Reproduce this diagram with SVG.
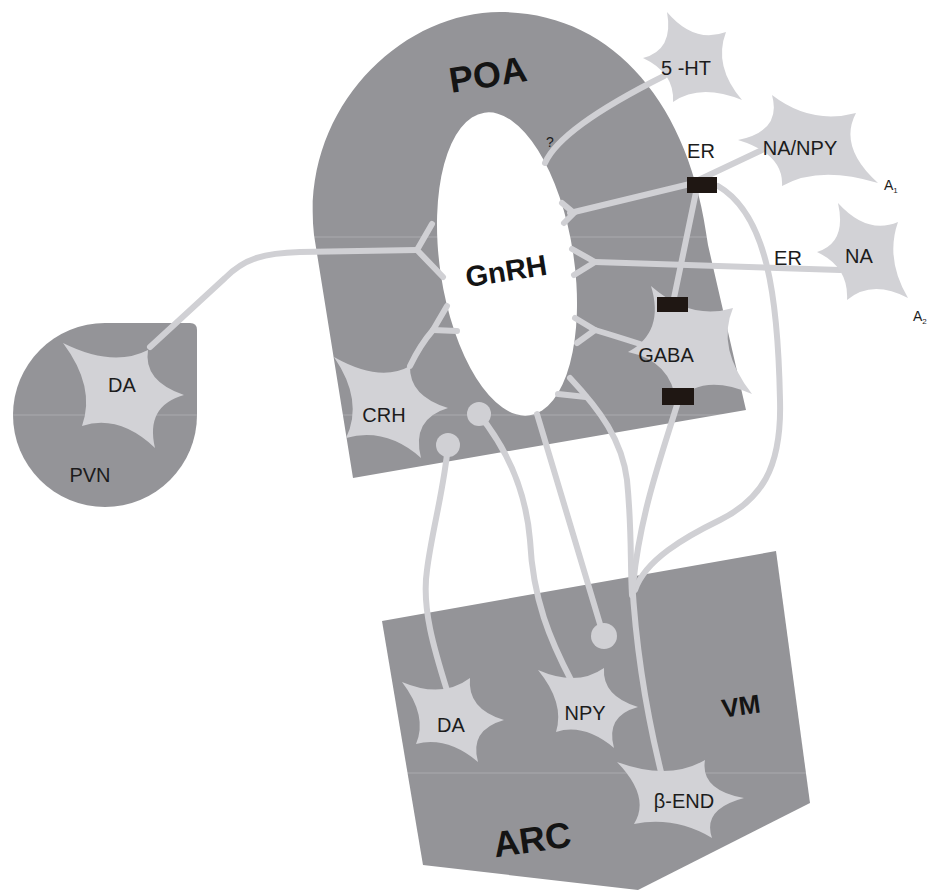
<svg xmlns="http://www.w3.org/2000/svg" width="929" height="892" viewBox="0 0 929 892">
  <style>
    .region { fill: #949498; }
    .band { stroke: #ffffff; stroke-opacity: 0.22; stroke-width: 1; }
    .cell { fill: #d2d2d6; }
    .axon { fill: none; stroke: #d0d0d4; stroke-width: 6; stroke-linecap: round; stroke-linejoin: round; }
    .bouton { fill: #d0d0d4; }
    .er { fill: #1f1713; }
    .lbl { font-family: "Liberation Sans", Arial, sans-serif; font-size: 20px; fill: #1c1c1c; text-anchor: middle; }
    .big { font-family: "Liberation Sans", Arial, sans-serif; font-weight: bold; fill: #141414; text-anchor: middle; }
    .sub { font-family: "Liberation Sans", Arial, sans-serif; font-size: 14px; fill: #1c1c1c; }
  </style>

  <rect width="929" height="892" fill="#ffffff"/>

  <!-- brain regions -->
  <g id="poa">
    <path class="region" d="M353,478 L314,235 C300,110 400,12 500,12 C610,12 690,100 708,245 L746,410 Z"/>
    <text class="big" font-size="36" x="488" y="87" transform="rotate(-9 488 75)">POA</text>
  </g>
  <g id="pvn">
    <path class="region" d="M197,330 L197,415 A92,92 0 1 1 105,323 L190,323 Q197,323 197,330 Z"/>
    <text class="lbl" x="90" y="482">PVN</text>
  </g>
  <g id="arc">
    <path class="region" d="M382,621 L776,551 L810,803 L638,890 L423,865 Z"/>
    <text class="big" font-size="36" x="532" y="852" transform="rotate(-8 532 838)">ARC</text>
    <text class="big" font-size="26" x="741" y="715" transform="rotate(-8 741 706)">VM</text>
  </g>

  <!-- faint horizontal bands -->
  <g id="bands">
    <line class="band" x1="314" y1="237" x2="710" y2="237"/>
    <line class="band" x1="12" y1="415" x2="197" y2="415"/>
    <line class="band" x1="330" y1="415" x2="745" y2="415"/>
    <line class="band" x1="395" y1="773" x2="808" y2="773"/>
  </g>

  <!-- GnRH cell field -->
  <g id="gnrh">
    <ellipse cx="507" cy="264" rx="67" ry="153" fill="#ffffff" transform="rotate(-8.5 507 264)"/>
    <text class="big" font-size="29" x="506" y="281" transform="rotate(-9 506 270)">GnRH</text>
  </g>

  <!-- axonal projections -->
  <g id="axons">
    <path class="axon" d="M545,163 C556,138 600,108 664,76"/>
    <path class="axon" d="M570,213 L690,184 L762,150"/>
    <path class="axon" d="M562,203 L574,213 L564,223"/>
    <path class="axon" d="M595,262 L840,270"/>
    <path class="axon" d="M572,249 L595,262 L574,275"/>
    <path class="axon" d="M595,330 Q615,336 640,344"/>
    <path class="axon" d="M575,318 L595,330 L577,343"/>
    <path class="axon" d="M410,366 Q420,345 433,330"/>
    <path class="axon" d="M447,306 L433,330 L457,331"/>
    <path class="axon" d="M417,250 L300,252 C265,253 245,258 225,278 L150,347"/>
    <path class="axon" d="M432,224 L417,250 L443,277"/>
    <path class="axon" d="M718,186 C768,215 778,300 780,400 C782,470 760,500 720,520 C685,537 645,560 635,590"/>
    <path class="axon" d="M696,192 L674,298"/>
    <path class="axon" d="M677,405 C660,460 640,515 633,585"/>
    <path class="axon" d="M570,378 C600,410 622,440 627,480 C632,530 630,560 632,595"/>
    <path class="axon" d="M558,394 L586,397"/>
    <path class="axon" stroke-width="8" d="M537,414 L603,634"/>
    <path class="axon" d="M448,445 C444,490 432,530 427,570 C421,610 436,655 449,697"/>
    <path class="axon" d="M478,413 C500,440 525,480 530,540 C533,600 550,640 572,682"/>
    <path class="axon" stroke-width="11" d="M632,580 C636,650 648,720 662,776"/>
  </g>

  <!-- terminals -->
  <g id="boutons">
    <circle class="bouton" cx="448" cy="445" r="12"/>
    <circle class="bouton" cx="479" cy="414" r="12"/>
    <circle class="bouton" cx="604" cy="636" r="13"/>
  </g>

  <!-- neurons -->
  <g id="n-5ht">
    <path class="cell" d="M667,12 Q694,44 726,32 Q713,66 742,100 Q700,83 673,102 Q675,73 643,58 Q674,50 667,12 Z"/>
    <text class="lbl" x="686" y="75">5 -HT</text>
  </g>
  <g id="n-nanpy">
    <path class="cell" d="M772,95 Q811,125 856,113 Q838,147 878,183 Q819,165 782,186 Q784,154 738,140 Q782,131 772,95 Z"/>
    <text class="lbl" x="800" y="155">NA/NPY</text>
    <text class="sub" x="884" y="190">A<tspan font-size="8" dy="3">1</tspan></text>
  </g>
  <g id="n-na">
    <path class="cell" d="M838,203 Q867,235 898,222 Q885,259 908,298 Q872,279 847,300 Q849,267 817,252 Q847,243 838,203 Z"/>
    <text class="lbl" x="859" y="263">NA</text>
    <text class="sub" x="913" y="321">A<tspan font-size="8" dy="3">2</tspan></text>
  </g>
  <g id="n-gaba">
    <path class="cell" d="M651,286 Q691,321 733,308 Q716,348 752,394 Q702,372 676,402 Q671,361 628,352 Q665,332 651,286 Z"/>
    <text class="lbl" x="666" y="362">GABA</text>
  </g>
  <g id="n-crh">
    <path class="cell" d="M334,357 Q380,383 410,366 Q409,396 448,408 Q411,419 421,458 Q386,427 346,438 Q364,401 334,357 Z"/>
    <text class="lbl" x="384" y="422">CRH</text>
  </g>
  <g id="n-da-pvn">
    <path class="cell" d="M63,343 Q113,368 148,350 Q143,381 184,395 Q145,406 155,448 Q119,414 82,426 Q96,387 63,343 Z"/>
    <text class="lbl" x="122" y="392">DA</text>
  </g>
  <g id="n-da-arc">
    <path class="cell" d="M402,682 Q442,699 470,678 Q467,709 504,720 Q469,730 478,762 Q447,736 416,744 Q428,716 402,682 Z"/>
    <text class="lbl" x="451" y="732">DA</text>
  </g>
  <g id="n-npy">
    <path class="cell" d="M538,670 Q577,687 604,668 Q602,696 638,707 Q605,716 614,748 Q584,723 556,732 Q565,703 538,670 Z"/>
    <text class="lbl" x="585" y="720">NPY</text>
  </g>
  <g id="n-bend">
    <path class="cell" d="M617,762 Q669,781 705,760 Q700,790 744,798 Q702,809 712,838 Q675,816 634,824 Q651,797 617,762 Z"/>
    <text class="lbl" x="684" y="808">β-END</text>
  </g>

  <!-- estrogen receptor sites -->
  <g id="er-sites">
    <rect class="er" x="687" y="177" width="30" height="16"/>
    <rect class="er" x="657" y="297" width="31" height="15"/>
    <rect class="er" x="662" y="388" width="32" height="17"/>
    <text class="lbl" x="701" y="158">ER</text>
    <text class="lbl" x="788" y="265">ER</text>
    <text class="sub" x="546" y="147" fill="#333">?</text>
  </g>
</svg>
